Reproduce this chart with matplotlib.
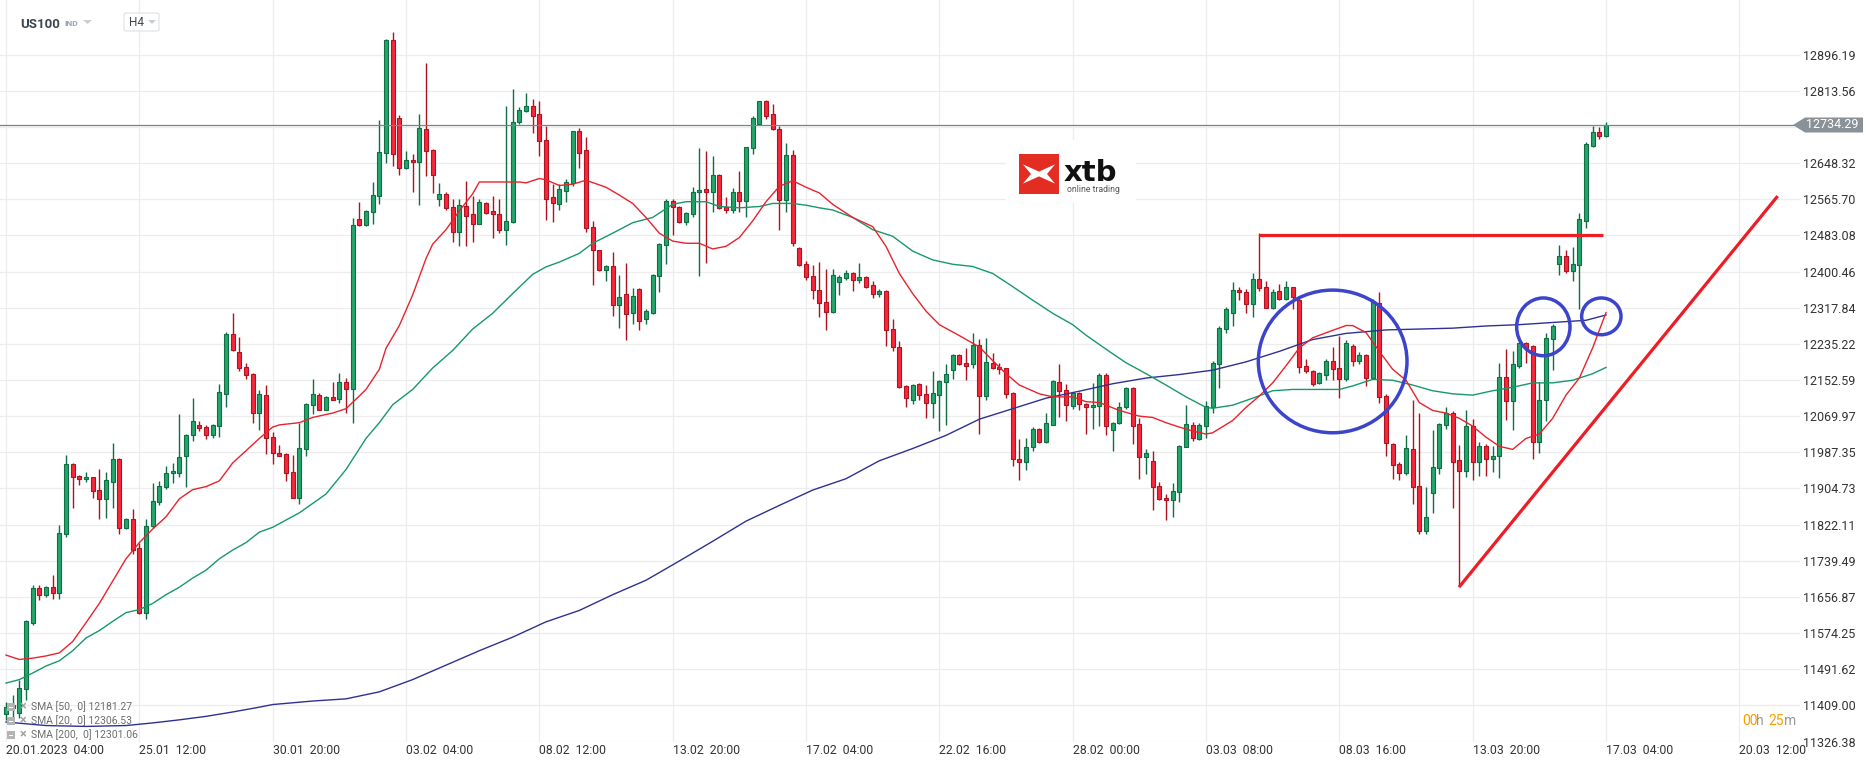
import matplotlib
matplotlib.use("Agg")
import matplotlib.pyplot as plt
import matplotlib.transforms as mtransforms
from matplotlib.patches import Ellipse, Polygon, Rectangle, FancyBboxPatch

plt.rcParams['font.family'] = ['Roboto', 'DejaVu Sans']

# ---- data (US100, H4 candles, 20.01.2023 04:00 -> 17.03.2023 04:00) ----
opens = [11390, 11404, 11392, 11446, 11598, 11677, 11662, 11679, 11667, 11800,
         11961, 11934, 11926, 11931, 11902, 11881, 11920, 11973, 11815, 11835,
         11769, 11621, 11818, 11873, 11907, 11939, 11941, 11978, 12027, 12050,
         12046, 12028, 12047, 12121, 12257, 12217, 12183, 12166, 12077, 12118,
         12022, 11985, 11983, 11942, 11884, 11994, 12096, 12118, 12085, 12114,
         12110, 12149, 12131, 12520, 12507, 12536, 12572, 12672, 12930, 12751,
         12636, 12656, 12651, 12726, 12679, 12567, 12577, 12549, 12491, 12551,
         12532, 12510, 12558, 12539, 12533, 12496, 12514, 12743, 12767, 12779,
         12760, 12700, 12570, 12554, 12585, 12602, 12721, 12679, 12503, 12449,
         12404, 12412, 12323, 12350, 12305, 12361, 12291, 12305, 12391, 12460,
         12562, 12549, 12514, 12531, 12582, 12589, 12583, 12621, 12548, 12542,
         12581, 12562, 12682, 12738, 12789, 12761, 12726, 12563, 12666, 12455,
         12418, 12391, 12358, 12330, 12308, 12376, 12386, 12398, 12381, 12388,
         12369, 12348, 12356, 12269, 12228, 12139, 12106, 12143, 12121, 12100,
         12119, 12149, 12175, 12210, 12191, 12189, 12232, 12116, 12192, 12182,
         12179, 12123, 11973, 11965, 11999, 12040, 12011, 12050, 12149, 12130,
         12093, 12123, 12098, 12090, 12093, 12164, 12039, 12055, 12090, 12134,
         12052, 11976, 11968, 11910, 11884, 11879, 11897, 11999, 12050, 12017,
         12048, 12090, 12189, 12269, 12306, 12359, 12354, 12326, 12383, 12364,
         12318, 12355, 12338, 12364, 12335, 12184, 12172, 12146, 12165, 12197,
         12180, 12155, 12230, 12195, 12210, 12157, 12328, 12116, 12006, 11961,
         11939, 11994, 11910, 11808, 11894, 11951, 12050, 12077, 11970, 11945,
         12047, 11966, 12001, 11973, 11978, 12160, 12104, 12185, 12238, 12230,
         12011, 12106, 12246, 12417, 12437, 12401, 12415, 12517, 12687, 12720,
         12710]
highs = [11417, 11432, 11468, 11604, 11684, 11684, 11682, 11706, 11822, 11981,
         11963, 11936, 11943, 11932, 11950, 11943, 12009, 11975, 11837, 11858,
         11779, 11834, 11917, 11922, 11955, 11963, 12075, 12030, 12111, 12059,
         12049, 12053, 12144, 12263, 12306, 12251, 12191, 12169, 12130, 12140,
         12034, 12004, 11985, 11981, 12055, 12101, 12155, 12123, 12116, 12149,
         12169, 12157, 12522, 12560, 12542, 12606, 12746, 12932, 12947, 12758,
         12675, 12669, 12761, 12878, 12681, 12603, 12582, 12565, 12567, 12608,
         12573, 12567, 12560, 12573, 12565, 12779, 12818, 12777, 12809, 12794,
         12789, 12733, 12600, 12600, 12611, 12721, 12728, 12707, 12516, 12450,
         12416, 12445, 12393, 12420, 12363, 12363, 12315, 12395, 12465, 12565,
         12567, 12551, 12536, 12593, 12682, 12675, 12665, 12623, 12570, 12592,
         12630, 12685, 12755, 12791, 12792, 12784, 12733, 12694, 12679, 12457,
         12424, 12415, 12422, 12407, 12407, 12393, 12405, 12400, 12419, 12390,
         12378, 12361, 12358, 12291, 12241, 12141, 12144, 12145, 12141, 12172,
         12153, 12189, 12212, 12212, 12225, 12259, 12246, 12248, 12215, 12191,
         12181, 12125, 12018, 12019, 12045, 12042, 12077, 12153, 12189, 12143,
         12126, 12125, 12099, 12146, 12169, 12169, 12057, 12103, 12136, 12136,
         12065, 11994, 11990, 11919, 11892, 11917, 12004, 12096, 12057, 12055,
         12104, 12197, 12276, 12320, 12376, 12365, 12361, 12396, 12488, 12379,
         12361, 12371, 12379, 12366, 12340, 12200, 12175, 12171, 12200, 12228,
         12254, 12245, 12235, 12216, 12212, 12337, 12354, 12121, 12008, 11965,
         12026, 12106, 12077, 11907, 12039, 12054, 12092, 12082, 12004, 12085,
         12063, 12011, 12006, 12001, 12192, 12223, 12218, 12240, 12240, 12233,
         12149, 12259, 12281, 12461, 12449, 12456, 12534, 12697, 12733, 12730,
         12743]
lows = [11376, 11366, 11381, 11422, 11593, 11650, 11657, 11652, 11652, 11793,
        11861, 11912, 11920, 11884, 11835, 11838, 11861, 11800, 11812, 11754,
        11619, 11606, 11815, 11868, 11904, 11917, 11932, 11907, 12014, 12036,
        12017, 12019, 12022, 12092, 12218, 12174, 12154, 12055, 12039, 11983,
        11961, 11978, 11922, 11882, 11869, 11978, 12075, 12083, 12083, 12106,
        12101, 12077, 12055, 12504, 12505, 12509, 12554, 12648, 12641, 12621,
        12634, 12583, 12552, 12618, 12580, 12551, 12542, 12467, 12458, 12458,
        12468, 12508, 12531, 12476, 12488, 12460, 12512, 12738, 12764, 12718,
        12665, 12519, 12514, 12542, 12560, 12595, 12636, 12491, 12369, 12402,
        12379, 12299, 12272, 12245, 12281, 12266, 12281, 12303, 12353, 12417,
        12483, 12512, 12506, 12524, 12391, 12420, 12536, 12544, 12534, 12534,
        12536, 12526, 12669, 12736, 12748, 12723, 12496, 12536, 12458, 12413,
        12381, 12338, 12297, 12267, 12305, 12347, 12381, 12356, 12374, 12363,
        12340, 12343, 12230, 12218, 12134, 12092, 12098, 12108, 12065, 12065,
        12036, 12050, 12154, 12187, 12152, 12180, 12029, 12106, 12177, 12167,
        12111, 11955, 11924, 11946, 11991, 12009, 12009, 12050, 12067, 12060,
        12087, 12085, 12029, 12041, 12047, 12026, 11991, 12053, 12087, 12006,
        11927, 11937, 11856, 11879, 11832, 11840, 11873, 11999, 12014, 12016,
        12019, 12077, 12134, 12259, 12277, 12335, 12305, 12296, 12356, 12317,
        12315, 12335, 12336, 12315, 12169, 12169, 12139, 12143, 12152, 12152,
        12111, 12150, 12185, 12189, 12138, 12155, 12101, 11978, 11927, 11924,
        11935, 11869, 11800, 11800, 11849, 11937, 12041, 11859, 11682, 11932,
        11924, 11934, 11934, 11942, 11929, 12062, 12039, 12180, 12192, 11973,
        11985, 12060, 12175, 12393, 12396, 12378, 12315, 12500, 12684, 12704,
        12707]
closes = [11405, 11410, 11448, 11601, 11677, 11662, 11679, 11667, 11802, 11961,
          11932, 11927, 11931, 11899, 11881, 11924, 11971, 11815, 11835, 11764,
          11621, 11818, 11876, 11910, 11941, 11945, 11976, 12028, 12060, 12042,
          12028, 12049, 12124, 12257, 12220, 12181, 12164, 12077, 12120, 12019,
          11986, 11980, 11939, 11884, 11997, 12098, 12121, 12085, 12114, 12108,
          12149, 12131, 12507, 12507, 12539, 12575, 12674, 12930, 12670, 12636,
          12656, 12651, 12728, 12675, 12621, 12577, 12546, 12491, 12552, 12528,
          12510, 12560, 12534, 12531, 12496, 12516, 12741, 12769, 12779, 12756,
          12699, 12565, 12557, 12588, 12604, 12721, 12672, 12501, 12449, 12404,
          12412, 12323, 12343, 12303, 12345, 12288, 12310, 12393, 12463, 12562,
          12549, 12514, 12534, 12583, 12587, 12582, 12621, 12546, 12542, 12581,
          12562, 12684, 12751, 12789, 12755, 12726, 12563, 12666, 12465, 12415,
          12389, 12358, 12328, 12307, 12393, 12389, 12398, 12381, 12389, 12364,
          12348, 12355, 12267, 12228, 12136, 12111, 12142, 12118, 12100, 12123,
          12151, 12166, 12210, 12189, 12185, 12232, 12116, 12194, 12179, 12177,
          12121, 11971, 11965, 11999, 12040, 12011, 12054, 12151, 12128, 12096,
          12123, 12098, 12090, 12096, 12164, 12047, 12055, 12092, 12134, 12048,
          11976, 11985, 11907, 11881, 11879, 11899, 12002, 12052, 12019, 12050,
          12093, 12191, 12271, 12315, 12359, 12353, 12326, 12383, 12362, 12318,
          12354, 12338, 12364, 12343, 12182, 12174, 12144, 12169, 12197, 12177,
          12155, 12238, 12195, 12210, 12157, 12332, 12114, 12009, 11958, 11939,
          11997, 11907, 11808, 11840, 11953, 12052, 12077, 11966, 11945, 12047,
          11966, 12001, 11973, 11980, 12160, 12104, 12189, 12238, 12226, 12011,
          12108, 12248, 12277, 12437, 12401, 12417, 12521, 12692, 12720, 12710,
          12734.29]

# moving averages as shown by the platform (bar index, value)
sma20_idx = [0, 2, 4, 6, 8, 10, 12, 14, 16, 18, 20, 22, 24, 26, 28, 30, 32, 34, 36, 38,
             40, 41, 44, 46, 49, 51, 53, 54, 56, 57, 59, 61, 63, 64, 66, 68, 70, 71, 75, 77,
             78, 80, 81, 83, 85, 87, 90, 92, 94, 96, 98, 100, 102, 104, 106, 108, 110, 112,
             114, 116, 118, 120, 122, 124, 127, 130, 132, 134, 136, 138, 140, 143, 146, 148,
             150, 152, 155, 157, 160, 162, 164, 167, 170, 172, 174, 176, 178, 180, 181, 184,
             186, 188, 190, 192, 194, 196, 199, 201, 202, 204, 206, 208, 210, 212, 214, 216,
             218, 220, 222, 224, 226, 228, 230, 232, 234, 236, 238, 240]
sma20_val = [11524, 11514, 11517, 11522, 11529, 11555, 11598, 11642, 11693, 11744,
             11781, 11812, 11840, 11881, 11902, 11909, 11922, 11963, 11991, 12019,
             12045, 12050, 12055, 12067, 12077, 12087, 12116, 12131, 12177, 12225,
             12277, 12347, 12430, 12463, 12496, 12539, 12578, 12605, 12605, 12605,
             12603, 12613, 12610, 12597, 12600, 12609, 12593, 12575, 12556, 12524,
             12488, 12470, 12465, 12465, 12452, 12458, 12478, 12516, 12560, 12595,
             12608, 12593, 12580, 12554, 12524, 12503, 12458, 12396, 12350, 12310,
             12279, 12254, 12228, 12197, 12167, 12141, 12121, 12114, 12114, 12103,
             12101, 12083, 12070, 12067, 12055, 12045, 12036, 12029, 12032, 12060,
             12090, 12116, 12146, 12185, 12226, 12249, 12266, 12277, 12277, 12261,
             12218, 12177, 12152, 12101, 12083, 12077, 12065, 12047, 12022, 12001,
             11994, 12019, 12029, 12065, 12118, 12157, 12226, 12306.53]
sma50_idx = [0, 2, 4, 6, 8, 10, 12, 14, 16, 18, 20, 22, 24, 26, 28, 30, 32, 34, 36, 38,
             40, 44, 48, 51, 54, 56, 58, 61, 64, 67, 70, 73, 76, 79, 81, 83, 86, 88, 91, 94,
             97, 100, 102, 105, 107, 110, 113, 115, 118, 120, 122, 124, 127, 130, 133, 136,
             139, 142, 145, 148, 151, 154, 157, 160, 162, 165, 168, 171, 174, 177, 180, 181,
             184, 187, 190, 193, 196, 199, 200, 202, 205, 208, 211, 214, 217, 220, 223, 226,
             229, 232, 235, 238, 240]
sma50_val = [11460, 11468, 11483, 11499, 11511, 11534, 11563, 11580, 11601, 11621,
             11628, 11642, 11662, 11679, 11700, 11718, 11744, 11764, 11781, 11805,
             11816, 11849, 11892, 11948, 12019, 12055, 12096, 12131, 12180, 12220,
             12269, 12305, 12350, 12394, 12411, 12422, 12442, 12465, 12488, 12512,
             12524, 12554, 12560, 12560, 12549, 12546, 12549, 12556, 12556, 12552,
             12546, 12541, 12524, 12496, 12481, 12447, 12427, 12417, 12412, 12396,
             12366, 12335, 12305, 12279, 12255, 12223, 12192, 12167, 12141, 12114,
             12090, 12088, 12095, 12111, 12128, 12131, 12131, 12131, 12131, 12139,
             12154, 12152, 12141, 12128, 12121, 12118, 12128, 12136, 12146, 12146,
             12152, 12167, 12181.27]
sma200_idx = [0, 6, 12, 18, 22, 26, 30, 34, 38, 40, 46, 51, 56, 61, 66, 71, 76, 81, 86,
              91, 96, 101, 106, 111, 116, 121, 126, 131, 136, 141, 146, 151, 156, 161,
              166, 171, 176, 181, 186, 191, 196, 201, 207, 212, 217, 222, 227, 232, 237, 240]
sma200_val = [11371, 11363, 11361, 11363, 11369, 11376, 11384, 11394, 11405, 11411,
              11419, 11424, 11440, 11468, 11501, 11534, 11565, 11600, 11626, 11662,
              11695, 11739, 11784, 11830, 11866, 11901, 11927, 11968, 11996, 12026,
              12063, 12087, 12111, 12127, 12144, 12157, 12165, 12175, 12194, 12218,
              12245, 12259, 12267, 12269, 12271, 12276, 12279, 12284, 12289, 12301.06]

price_ticks = [12896.19, 12813.56, 12730.94, 12648.32, 12565.70, 12483.08, 12400.46,
               12317.84, 12235.22, 12152.59, 12069.97, 11987.35, 11904.73, 11822.11,
               11739.49, 11656.87, 11574.25, 11491.62, 11409.00, 11326.38]
price_labels = ["12896.19", "12813.56", "", "12648.32", "12565.70", "12483.08", "12400.46",
                "12317.84", "12235.22", "12152.59", "12069.97", "11987.35", "11904.73",
                "11822.11", "11739.49", "11656.87", "11574.25", "11491.62", "11409.00",
                "11326.38"]
time_ticks = [0, 20, 40, 60, 80, 100, 120, 140, 160, 180, 200, 220, 240, 260]
time_labels = ["20.01.2023  04:00", "25.01  12:00", "30.01  20:00", "03.02  04:00",
               "08.02  12:00", "13.02  20:00", "17.02  04:00", "22.02  16:00",
               "28.02  00:00", "03.03  08:00", "08.03  16:00", "13.03  20:00",
               "17.03  04:00", "20.03  12:00"]
last_price = 12734.29
legend_rows = ["SMA [50,  0] 12181.27", "SMA [20,  0] 12306.53", "SMA [200,  0] 12301.06"]

# ---- figure ----
W, H = 1866, 767
fig = plt.figure(figsize=(W / 100, H / 100), dpi=100)
fig.patch.set_facecolor("white")


def P(px, py):
    return (px / W, 1 - py / H)


ax = fig.add_axes([0, 25 / H, 1800 / W, 742 / H])
ax.set_xlim(-0.9, 269.1)
ax.set_ylim(11325.4, 13020.85)
for s in ax.spines.values():
    s.set_visible(False)
ax.set_xticks([])
ax.yaxis.tick_right()
ax.set_yticks(price_ticks)
ax.set_yticklabels(price_labels)
ax.tick_params(axis="y", length=0, pad=2.2, labelsize=9, labelcolor="#333333")

grid_c = "#ededed"
for t in time_ticks:
    ax.axvline(t, color=grid_c, lw=0.9, zorder=0)
for p in price_ticks:
    ax.axhline(p, color=grid_c, lw=0.9, zorder=0)

# candles
x = list(range(len(closes)))
up = [c >= o for o, c in zip(opens, closes)]
fill = ["#24a66c" if u else "#f7283b" for u in up]
edge = ["#0f6e44" if u else "#ad1420" for u in up]
bottoms = [min(o, c) for o, c in zip(opens, closes)]
heights = [max(abs(c - o), 2.5) for o, c in zip(opens, closes)]
ax.vlines(x, lows, highs, colors=edge, lw=1.0, zorder=2)
ax.bar(x, heights, bottom=bottoms, width=0.64, color=fill, edgecolor=edge,
       linewidth=0.8, zorder=3)

# moving averages
ax.plot(sma200_idx, sma200_val, color="#2e3192", lw=1.0, zorder=4)
ax.plot(sma50_idx, sma50_val, color="#16996a", lw=1.0, zorder=4)
ax.plot(sma20_idx, sma20_val, color="#e8232c", lw=1.0, zorder=4)

# last price line
ax.axhline(last_price, color="#74838f", lw=0.9, zorder=4)

# hand drawn annotations
red = "#ee1c25"
blue = "#3c44cc"
ax.plot([188, 239.6], [12485, 12485], color=red, lw=2.3, solid_capstyle="butt", zorder=6)
ax.plot([218.1, 265.6], [11682, 12570], color=red, lw=2.3, zorder=6)
ax.add_patch(Ellipse((199.0, 12195), 22.3, 326, fill=False, ec=blue, lw=2.5, zorder=6))
ax.add_patch(Ellipse((230.6, 12274), 8.0, 132, fill=False, ec=blue, lw=2.5, zorder=6))
ax.add_patch(Ellipse((239.3, 12298), 5.9, 84, fill=False, ec=blue, lw=2.5, zorder=6))

# time labels
trans = mtransforms.blended_transform_factory(ax.transData, ax.transAxes)
for t, lab in zip(time_ticks, time_labels):
    ax.text(t, -9 / 742, lab, transform=trans, ha="left", va="center",
            fontsize=8.8, color="#333333", clip_on=False)

# last price tag
tag = [P(1793, 125), P(1805, 117.5), P(1863, 117.5), P(1863, 132.5), P(1805, 132.5)]
fig.add_artist(Polygon(tag, closed=True, transform=fig.transFigure, fc="#8a9298", ec="none"))
fig.text(*P(1806, 125), f"{last_price:.2f}", color="white", fontsize=9, ha="left", va="center")

# header
fig.text(*P(20, 24), "US100", fontsize=9.5, fontweight="bold", color="#3c4650", va="center")
fig.text(*P(64, 24), "IND", fontsize=6, fontweight="bold", color="#9aa3ab", va="center")
fig.add_artist(Polygon([P(83, 20), P(92, 20), P(87.5, 24)], transform=fig.transFigure,
                       fc="#c9ced3", ec="none"))
fig.add_artist(FancyBboxPatch(P(124, 31), 35 / W, 18 / H, boxstyle="round,pad=0,rounding_size=0.002",
                              transform=fig.transFigure, fc="white", ec="#dde1e5", lw=0.8))
fig.text(*P(129, 23), "H4", fontsize=8.5, color="#3c4650", va="center")
fig.add_artist(Polygon([P(148, 20), P(156, 20), P(152, 24)], transform=fig.transFigure,
                       fc="#c9ced3", ec="none"))

# legend
for i, row in enumerate(legend_rows):
    yy = 707 + i * 14
    fig.add_artist(Rectangle(P(7, yy + 4), 8 / W, 8 / H, transform=fig.transFigure,
                             fc="#b4b4b4", ec="none", zorder=7))
    fig.add_artist(Rectangle(P(9, yy + 1), 4 / W, 1.2 / H, transform=fig.transFigure,
                             fc="white", ec="none", zorder=8))
    fig.text(*P(20, yy), "\u00d7", fontsize=9, fontweight="bold", color="#a0a0a0",
             va="center", zorder=8)
    fig.text(*P(31, yy), row, fontsize=7.5, color="#6e6e6e", va="center", zorder=8)

# logo
fig.add_artist(Rectangle(P(1006, 202), 130 / W, 62 / H, transform=fig.transFigure,
                         fc="white", ec="none", zorder=7))
lax = fig.add_axes([1019 / W, 1 - 194 / H, 40 / W, 40 / H], zorder=8)
lax.set_xlim(0, 1)
lax.set_ylim(0, 1)
lax.axis("off")
lax.add_patch(Rectangle((0, 0), 1, 1, fc="#e32d22", ec="none"))
lax.add_patch(Polygon([(0.1, 0.74), (0.5, 0.56), (0.9, 0.74), (0.7, 0.5), (0.9, 0.26),
                       (0.5, 0.44), (0.1, 0.26), (0.3, 0.5)], fc="white", ec="none"))
fig.text(*P(1064, 181), "xtb", fontsize=21, fontweight="bold", color="#111111",
         family="DejaVu Sans", va="baseline", zorder=9)
fig.text(*P(1067, 189), "online trading", fontsize=6.2, color="#555555", va="center", zorder=9)

# candle timer
for txt, px, col in [("00", 1742, "#f5a000"), ("h", 1756, "#9a9a9a"),
                     ("25", 1768, "#f5a000"), ("m", 1784, "#9a9a9a")]:
    fig.text(*P(px, 721), txt, fontsize=10, color=col, va="center")

fig.savefig("out.png", dpi=100)
